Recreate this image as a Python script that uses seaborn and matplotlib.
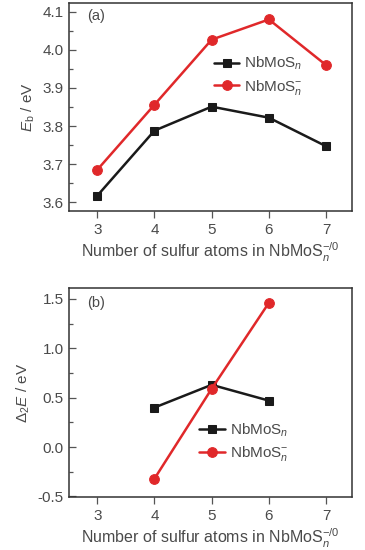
import matplotlib
matplotlib.use('Agg')
import matplotlib.pyplot as plt
import seaborn as sns
from matplotlib.ticker import MultipleLocator

# data
n_top = [3, 4, 5, 6, 7]
eb_neutral = [3.617, 3.788, 3.851, 3.822, 3.747]
eb_anion = [3.685, 3.856, 4.027, 4.080, 3.960]

n_bot = [4, 5, 6]
d2e_neutral = [0.40, 0.63, 0.47]
d2e_anion = [-0.32, 0.59, 1.46]

lab_neutral = r'NbMoS$_n$'
lab_anion = r'NbMoS$_n^{-}$'

sns.set_style('ticks')
plt.rcParams['font.family'] = ['Liberation Sans', 'DejaVu Sans']
plt.rcParams['mathtext.fontset'] = 'custom'
plt.rcParams['mathtext.rm'] = 'Liberation Sans'
plt.rcParams['mathtext.it'] = 'Liberation Sans:italic'
plt.rcParams['mathtext.bf'] = 'Liberation Sans:bold'
plt.rcParams['axes.unicode_minus'] = False

grey = '#4a4a4a'
black = '#1a1a1a'
red = '#e0282a'

fig = plt.figure(figsize=(3.65, 5.5), dpi=100)
ax1 = fig.add_axes([0.188, 0.6164, 0.776, 0.378])
ax2 = fig.add_axes([0.188, 0.0964, 0.776, 0.38])

# (a)
sns.lineplot(x=n_top, y=eb_neutral, ax=ax1, color=black, marker='s', markersize=6,
             markeredgecolor=black, linewidth=1.8, label=lab_neutral)
sns.lineplot(x=n_top, y=eb_anion, ax=ax1, color=red, marker='o', markersize=7,
             markeredgecolor=red, linewidth=1.8, label=lab_anion)
ax1.set_ylim(3.577, 4.123)
ax1.yaxis.set_major_locator(MultipleLocator(0.1))
ax1.yaxis.set_minor_locator(MultipleLocator(0.05))
ax1.set_ylabel(r'$E_\mathrm{b}$ / eV', fontsize=11, color=grey)
ax1.text(0.065, 0.94, '(a)', transform=ax1.transAxes, fontsize=10.5, color=grey, va='center')
ax1.legend(loc='upper left', bbox_to_anchor=(0.49, 0.78), frameon=False, fontsize=11,
           handlelength=1.7, handletextpad=0.3, labelspacing=0.35, labelcolor=grey,
           borderaxespad=0)

# (b)
sns.lineplot(x=n_bot, y=d2e_neutral, ax=ax2, color=black, marker='s', markersize=6,
             markeredgecolor=black, linewidth=1.8, label=lab_neutral)
sns.lineplot(x=n_bot, y=d2e_anion, ax=ax2, color=red, marker='o', markersize=7,
             markeredgecolor=red, linewidth=1.8, label=lab_anion)
ax2.set_ylim(-0.505, 1.61)
ax2.yaxis.set_major_locator(MultipleLocator(0.5))
ax2.yaxis.set_minor_locator(MultipleLocator(0.25))
ax2.set_ylabel(r'$\Delta_2E$ / eV', fontsize=11, color=grey)
ax2.text(0.065, 0.93, '(b)', transform=ax2.transAxes, fontsize=10.5, color=grey, va='center')
ax2.legend(loc='upper left', bbox_to_anchor=(0.44, 0.39), frameon=False, fontsize=11,
           handlelength=1.7, handletextpad=0.3, labelspacing=0.35, labelcolor=grey,
           borderaxespad=0)

for ax in (ax1, ax2):
    ax.set_xlim(2.5, 7.45)
    ax.set_xticks(n_top)
    ax.set_xlabel(r'Number of sulfur atoms in NbMoS$_n^{-/0}$', fontsize=11.5, color=grey,
                  labelpad=3)
    ax.tick_params(axis='both', which='major', labelsize=11, labelcolor=grey,
                   length=5, width=0.9, color='#555555')
    ax.tick_params(axis='x', direction='out')
    ax.tick_params(axis='y', which='both', direction='in')
    ax.tick_params(axis='y', which='minor', length=3, width=0.9, color='#555555')
    for s in ax.spines.values():
        s.set_visible(True)
        s.set_linewidth(1.1)
        s.set_color('#333333')

fig.savefig('out.png', dpi=100)
